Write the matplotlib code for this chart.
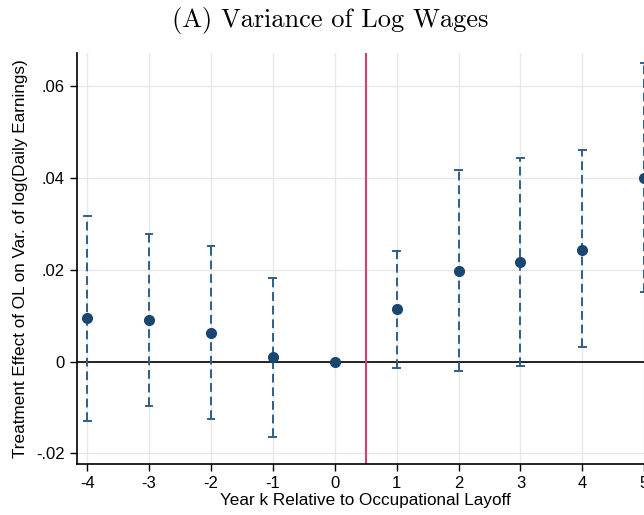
import matplotlib
matplotlib.use("Agg")
import matplotlib.pyplot as plt

years = [-4, -3, -2, -1, 0, 1, 2, 3, 4, 5]
coef = [0.0095, 0.0091, 0.0063, 0.0010, 0.0, 0.0115, 0.0198, 0.0217, 0.0244, 0.0401]
ci_low = [-0.0129, -0.0097, -0.0126, -0.0164, 0.0, -0.0013, -0.0020, -0.0010, 0.0031, 0.0151]
ci_high = [0.0318, 0.0278, 0.0251, 0.0182, 0.0, 0.0241, 0.0417, 0.0444, 0.0460, 0.0650]
yticks = [-0.02, 0.0, 0.02, 0.04, 0.06]
ytick_labels = ["-.02", "0", ".02", ".04", ".06"]
xticks = [-4, -3, -2, -1, 0, 1, 2, 3, 4, 5]

navy = "#1a476f"
ci_col = "#2e5f8a"
red = "#d0406a"

plt.rcParams['font.family'] = ['Liberation Sans', 'DejaVu Sans']
fig = plt.figure(figsize=(6.44, 5.15), dpi=100)
ax = fig.add_axes([0.119, 0.099, 0.9006, 0.7987])

ax.set_xlim(-4.17, 5.2)
ax.set_ylim(-0.0223, 0.0673)
ax.set_axisbelow(True)
ax.grid(True, color="#e8e8e8", linewidth=1.0)

ax.axhline(0, color="black", linewidth=1.2, zorder=2)
ax.axvline(0.5, color=red, linewidth=1.5, zorder=2)

cw = 0.055
for x, lo, hi in zip(years, ci_low, ci_high):
    if lo == hi:
        continue
    ax.plot([x, x], [lo, hi], color=ci_col, linewidth=1.4, linestyle=(0, (4.5, 2.5)), zorder=3)
    ax.plot([x - cw, x + cw], [lo, lo], color=ci_col, linewidth=1.4, zorder=3)
    ax.plot([x - cw, x + cw], [hi, hi], color=ci_col, linewidth=1.4, zorder=3)

ax.plot(years, coef, linestyle="none", marker="o", markersize=7, color=navy, zorder=4, clip_on=False)

ax.set_yticks(yticks)
ax.set_yticklabels(ytick_labels)
ax.set_xticks(xticks)
ax.set_xticklabels([str(v) for v in xticks])
ax.tick_params(axis="both", labelsize=12, length=5, width=1, color="black", direction="out")

for s in ["top", "right"]:
    ax.spines[s].set_visible(False)
for s in ["left", "bottom"]:
    ax.spines[s].set_color("black")
    ax.spines[s].set_linewidth(1.2)

fig.text(0.032, 0.099 + 0.7987 / 2, "Treatment Effect of OL on Var. of log(Daily Earnings)",
         rotation=90, ha="center", va="center", fontsize=12.3)
fig.text(0.568, 0.028, "Year k Relative to Occupational Layoff", ha="center", va="center", fontsize=12.3)
fig.text(0.513, 0.96, "(A) Variance of Log Wages", ha="center", va="center", fontsize=19,
         family=["cmr10", "DejaVu Serif"])

fig.savefig("out.png", dpi=100)
